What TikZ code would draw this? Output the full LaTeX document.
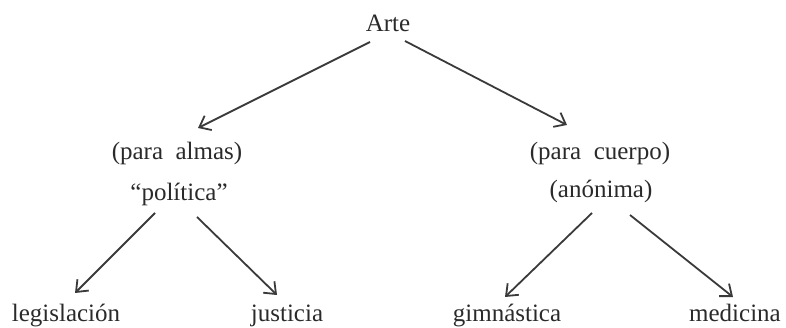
\documentclass[tikz,border=0pt]{standalone}
\usepackage{fontspec}
\setmainfont{Liberation Serif}
\usetikzlibrary{arrows.meta,calc}
\definecolor{ink}{HTML}{2A2A2A}
\definecolor{lineink}{HTML}{3A3A3A}
\tikzset{
  lbl/.style={anchor=base, inner sep=0pt, text=ink, font=\fontsize{25}{29}\selectfont},
  conn/.style={draw=lineink, line width=1.8pt, -{Straight Barb[length=10pt,width=16pt,line width=1.8pt]}}
}
\begin{document}
\begin{tikzpicture}[x=1pt,y=-1pt]
\useasboundingbox (0,0) rectangle (786,328);
\node[lbl] (arte) at (388,32) {Arte};
\node[lbl] (almas1) at (177,160) {(para\ \ almas)};
\node[lbl] (almas2) at (179,201) {``política''};
\node[lbl] (cuerpo1) at (600,160) {(para\ \ cuerpo)};
\node[lbl] (cuerpo2) at (601,198) {(anónima)};
\node[lbl] (leg) at (66,321) {legislación};
\node[lbl] (jus) at (287,321) {justicia};
\node[lbl] (gim) at (507,321) {gimnástica};
\node[lbl] (med) at (735,321) {medicina};
\draw[conn] ($(arte.base)+(-18,10)$) -- ($(almas1.base)+(21,-32)$);
\draw[conn] ($(arte.base)+(17,9)$) -- ($(cuerpo1.base)+(-33,-35)$);
\draw[conn] ($(almas2.base)+(-24,12)$) -- ($(leg.base)+(9,-28)$);
\draw[conn] ($(almas2.base)+(18,16)$) -- ($(jus.base)+(-10,-26)$);
\draw[conn] ($(cuerpo2.base)+(-9,15)$) -- ($(gim.base)+(-2,-24)$);
\draw[conn] ($(cuerpo2.base)+(29,17)$) -- ($(med.base)+(-2,-24)$);
\end{tikzpicture}
\end{document}
